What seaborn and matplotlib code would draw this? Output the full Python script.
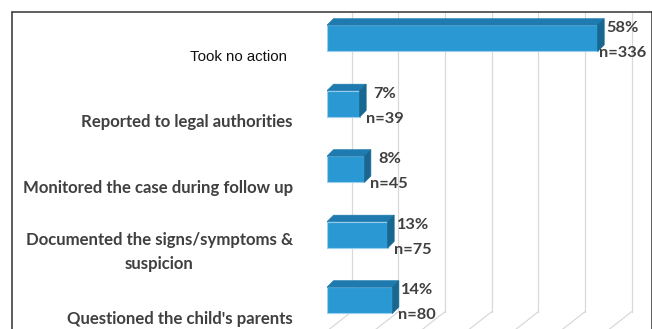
import numpy as np
import pandas as pd
import seaborn as sns
import matplotlib
matplotlib.use("Agg")
import matplotlib.pyplot as plt
from matplotlib.patches import Polygon
from matplotlib.lines import Line2D
import matplotlib.transforms as mtransforms

# ---------------- data ----------------
categories = [
    "Took no action",
    "Reported to legal authorities",
    "Monitored the case during follow up",
    "Documented the signs/symptoms &\nsuspicion",
    "Questioned the child's parents",
]
pct_values = [58, 7, 8, 13, 14]
n_values = [336, 39, 45, 75, 80]
grid_ticks = [0, 10, 20, 30, 40, 50, 60]

# ---------------- style ----------------
sns.set_theme(style="white")
plt.rcParams["font.family"] = ["Lato", "DejaVu Sans"]

FRONT = "#2A98D2"
TOP = "#1F7BAF"
SIDE = "#186791"
EDGE = "#9ACFEE"
TEXT = "#404040"
GRID = "#D9D9D9"

W, H = 652, 329
fig = plt.figure(figsize=(W / 100, H / 100), dpi=100)
fig.patch.set_facecolor("white")

# axes: front zero at x=327px, right frame at 651px, top 12px, floor front ~331px
ax_left, ax_right, ax_top, ax_bottom = 327, 651, 12, 331
ax = fig.add_axes([ax_left / W, (H - ax_bottom) / H,
                   (ax_right - ax_left) / W, (ax_bottom - ax_top) / H])
ax.patch.set_alpha(0)

px_per_unit = 4.667          # px per percent
px_per_cat = 65.5            # px per category step
xmax = (ax_right - ax_left) / px_per_unit
ytop = -(38.3 - ax_top) / px_per_cat
ybot = (ax_bottom - 38.3) / px_per_cat

df = pd.DataFrame({"action": categories, "pct": pct_values})
sns.barplot(data=df, y="action", x="pct", orient="h", color=FRONT,
            saturation=1, width=0.4, edgecolor=EDGE, linewidth=0.8,
            ax=ax, zorder=3)
ax.set_xlim(0, xmax)
ax.set_ylim(ybot, ytop)

# 3D depth for bars
bdx = 6.5 / px_per_unit
bdy = 6.5 / px_per_cat
bars = [p for p in ax.patches]
for p in bars:
    x0, y0 = p.get_x(), p.get_y()
    w, h = p.get_width(), p.get_height()
    ytop_b = min(y0, y0 + h)
    ybot_b = max(y0, y0 + h)
    x1 = x0 + w
    top = Polygon([(x0, ytop_b), (x1, ytop_b), (x1 + bdx, ytop_b - bdy),
                   (x0 + bdx, ytop_b - bdy)], closed=True,
                  facecolor=TOP, edgecolor=TOP, lw=0.5, zorder=3.5)
    side = Polygon([(x1, ytop_b), (x1 + bdx, ytop_b - bdy),
                    (x1 + bdx, ybot_b - bdy), (x1, ybot_b)], closed=True,
                   facecolor=SIDE, edgecolor=SIDE, lw=0.5, zorder=3.5)
    ax.add_patch(top)
    ax.add_patch(side)

# back wall gridlines + floor diagonals
gdx = 24.7 / px_per_unit
wall_bottom = (311.7 - 38.3) / px_per_cat
for t in grid_ticks:
    ax.plot([t + gdx, t + gdx], [ytop, wall_bottom], color=GRID, lw=0.9,
            zorder=1, clip_on=True)
    ax.plot([t + gdx, t], [wall_bottom, ybot], color=GRID, lw=0.9,
            zorder=1, clip_on=True)

# value labels
for i, (p, nv) in enumerate(zip(pct_values, n_values)):
    ax.text(p + 25 / px_per_unit, i + 0.04, f"{p}%\nn={nv}", ha="center",
            va="center", multialignment="center", fontsize=11.8,
            fontweight="bold", color=TEXT, linespacing=2.0, zorder=5,
            clip_on=False)

# category labels (shifted down to floor front)
ax.set_yticks(np.arange(len(categories)) + 0.26, labels=categories)
ax.tick_params(axis="y", length=0, pad=24.5)
ax.tick_params(axis="x", length=0, labelbottom=False)
ax.set_xlabel("")
ax.set_ylabel("")
for i, lbl in enumerate(ax.get_yticklabels()):
    if i == 0:
        lbl.set_fontfamily(["Liberation Sans", "DejaVu Sans"])
        lbl.set_fontweight("normal")
        lbl.set_fontsize(10.8)
        lbl.set_color("#111111")
        lbl.set_transform(lbl.get_transform() +
                          mtransforms.ScaledTranslation(-0.06, 0, fig.dpi_scale_trans))
    else:
        lbl.set_fontfamily(["Lato", "DejaVu Sans"])
        lbl.set_fontweight("bold")
        lbl.set_fontsize(12.1)
        lbl.set_color(TEXT)
        lbl.set_multialignment("center")
        lbl.set_linespacing(1.65)
        if "\n" in lbl.get_text():
            lbl.set_transform(lbl.get_transform() +
                              mtransforms.ScaledTranslation(0, 0.055, fig.dpi_scale_trans))

for s in ax.spines.values():
    s.set_visible(False)

# outer frame (top, left, right)
fl, fr, ft = 12 / W, 651.5 / W, 1 - 12 / H
frame_kw = dict(color="#333333", lw=1.1, transform=fig.transFigure)
fig.add_artist(Line2D([fl, fr], [ft, ft], **frame_kw))
fig.add_artist(Line2D([fl, fl], [ft, -0.05], **frame_kw))
fig.add_artist(Line2D([fr, fr], [ft, -0.05], **frame_kw))

fig.savefig("out.png", dpi=100)
